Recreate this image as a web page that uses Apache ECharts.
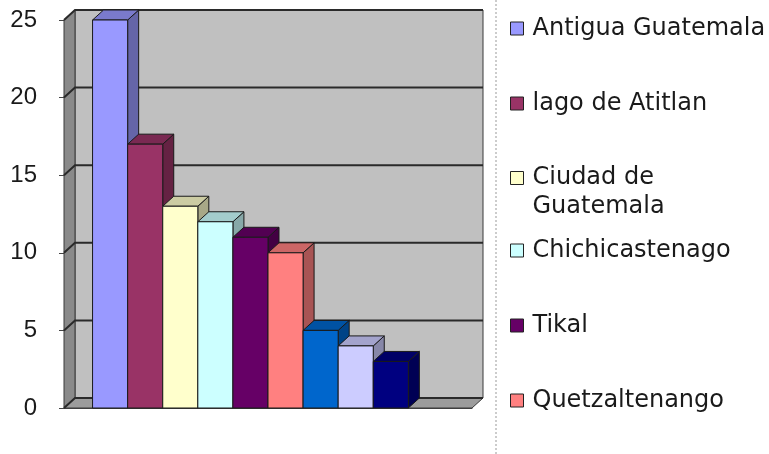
<!DOCTYPE html>
<html>
<head>
<meta charset="utf-8">
<script src="https://cdn.jsdelivr.net/npm/echarts@6/dist/echarts.min.js"></script>
<style>
  html, body { margin: 0; padding: 0; background: #fff; }
  #chart { width: 769px; height: 454px; }
</style>
</head>
<body>
<div id="chart"></div>
<script>
// lugares visitados (solo los 6 primeros aparecen en la leyenda)
var places = ['Antigua Guatemala', 'lago de Atitlan', 'Ciudad de Guatemala', 'Chichicastenago', 'Tikal', 'Quetzaltenango', 'Serie 7', 'Serie 8', 'Serie 9']
var visits = [25, 17, 13, 12, 11, 10, 5, 4, 3]
var barColors = ['#9999FF', '#993366', '#FFFFCC', '#CCFFFF', '#660066', '#FF8080', '#0066CC', '#CCCCFF', '#000080']
var legendNames = places.slice(0, 6)
var yTicks = [0, 5, 10, 15, 20, 25]

var DX = 11 // profundidad 3D
var DY = 10
var SLOTS = 10

var chart = echarts.init(document.getElementById('chart'))

// oscurecer un color (caras superior y lateral)
function shade (color, f) {
  var c = echarts.color.parse(color)
  return 'rgb(' + Math.round(c[0] * f) + ',' + Math.round(c[1] * f) + ',' + Math.round(c[2] * f) + ')'
}

function frame (api) {
  var base = api.coord([0, 0])
  var top = api.coord([0, yTicks[yTicks.length - 1]])
  var w = api.size([1, 0])[0]
  return { L: base[0] - w / 2, R: base[0] + w / 2, B: base[1], T: top[1], W: w }
}

function renderWalls (params, api) {
  var f = frame(api)
  var stroke = { stroke: '#3a3a3a', lineWidth: 1 }
  return {
    type: 'group',
    children: [
      { type: 'rect', shape: { x: f.L + DX, y: f.T - DY, width: f.R - f.L, height: f.B - f.T }, style: Object.assign({ fill: '#c0c0c0' }, stroke) },
      { type: 'polygon', shape: { points: [[f.L, f.T], [f.L + DX, f.T - DY], [f.L + DX, f.B - DY], [f.L, f.B]] }, style: Object.assign({ fill: '#8a8a8a' }, stroke) },
      { type: 'polygon', shape: { points: [[f.L, f.B], [f.L + DX, f.B - DY], [f.R + DX, f.B - DY], [f.R, f.B]] }, style: Object.assign({ fill: '#9c9c9c' }, stroke) }
    ]
  }
}

function renderGrid (params, api) {
  var f = frame(api)
  var y = api.coord([0, api.value(1)])[1]
  return {
    type: 'polyline',
    shape: { points: [[f.L, y], [f.L + DX, y - DY], [f.R + DX, y - DY]] },
    style: { stroke: '#2a2a2a', lineWidth: 2, fill: null }
  }
}

function makeBar (i, color) {
  return function (params, api) {
    var f = frame(api)
    var band = f.W * 0.86
    var bw = band / SLOTS
    var x0 = f.L + (f.W - band) / 2 + i * bw
    var x1 = x0 + bw
    var yt = api.coord([0, api.value(1)])[1]
    var yb = f.B
    var edge = { stroke: '#1a1a1a', lineWidth: 1 }
    return {
      type: 'group',
      children: [
        { type: 'polygon', shape: { points: [[x1, yt], [x1 + DX, yt - DY], [x1 + DX, yb - DY], [x1, yb]] }, style: Object.assign({ fill: shade(color, 0.66) }, edge) },
        { type: 'polygon', shape: { points: [[x0, yt], [x0 + DX, yt - DY], [x1 + DX, yt - DY], [x1, yt]] }, style: Object.assign({ fill: shade(color, 0.8) }, edge) },
        { type: 'rect', shape: { x: x0, y: yt, width: bw, height: yb - yt }, style: Object.assign({ fill: color }, edge) }
      ]
    }
  }
}

var series = [
  { name: 'walls', type: 'custom', silent: true, clip: false, renderItem: renderWalls, data: [[0, 0]], z: 1 },
  { name: 'grid', type: 'custom', silent: true, clip: false, renderItem: renderGrid, data: yTicks.map(function (v) { return [0, v] }), z: 1 }
]
places.forEach(function (name, i) {
  series.push({
    name: name,
    type: 'custom',
    clip: false,
    renderItem: makeBar(i, barColors[i]),
    itemStyle: { color: barColors[i] },
    encode: { x: 0, y: 1 },
    data: [[0, visits[i]]],
    z: 2
  })
})

var legendBase = {
  orient: 'vertical',
  left: 510,
  padding: 0,
  icon: 'rect',
  itemWidth: 13,
  itemHeight: 13,
  itemGap: 46,
  selectedMode: false,
  itemStyle: { borderColor: '#222', borderWidth: 1 },
  textStyle: { fontFamily: 'DejaVu Sans', fontSize: 24, lineHeight: 29, color: '#1a1a1a', padding: [0, 0, 0, 4] },
  formatter: function (name) {
    // nombres largos en dos líneas; línea vacía arriba para que la marca quede en la primera
    if (name.length > 18) {
      var k = name.lastIndexOf(' ')
      return '\n' + name.slice(0, k) + '\n' + name.slice(k + 1)
    }
    return name
  }
}

chart.setOption({
  backgroundColor: '#ffffff',
  animation: false,
  legend: [
    Object.assign({}, legendBase, { top: 14, data: legendNames.slice(0, 2) }),
    Object.assign({}, legendBase, { top: 134.5, data: legendNames.slice(2, 3) }),
    Object.assign({}, legendBase, { top: 236, data: legendNames.slice(3) })
  ],
  graphic: [
    {
      type: 'line',
      shape: { x1: 496, y1: 0, x2: 496, y2: 454 },
      style: { stroke: '#9a9a9a', lineWidth: 1, lineDash: [2, 2] }
    }
  ],
  grid: { left: 64, right: 297, top: 20, bottom: 46 },
  xAxis: {
    type: 'category',
    data: [''],
    axisLine: { show: true, lineStyle: { color: '#444' } },
    axisTick: { show: false },
    axisLabel: { show: false },
    splitLine: { show: false }
  },
  yAxis: {
    type: 'value',
    min: 0,
    max: 25,
    interval: 5,
    axisLine: { show: true, lineStyle: { color: '#444' } },
    axisTick: { show: true, length: 5, lineStyle: { color: '#444' } },
    axisLabel: { fontFamily: 'Liberation Sans', fontSize: 24, color: '#1a1a1a', margin: 27 },
    splitLine: { show: false }
  },
  series: series
})
</script>
</body>
</html>
